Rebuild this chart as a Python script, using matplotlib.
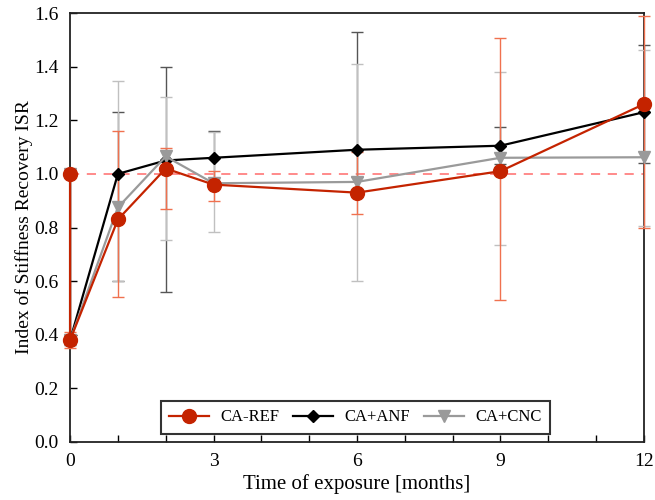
import matplotlib.pyplot as plt
from matplotlib.ticker import MultipleLocator, FixedLocator, FuncFormatter

# months of exposure; the first two points are the virgin (1.0) and the damaged state
months = [0, 0, 1, 2, 3, 6, 9, 12]

ref = [1.00, 0.38, 0.83, 1.02, 0.96, 0.93, 1.01, 1.26]
ref_lo = [0, 0.03, 0.29, 0.15, 0.06, 0.08, 0.48, 0.46]
ref_hi = [0, 0.03, 0.33, 0.075, 0.05, 0.15, 0.495, 0.33]

anf = [1.00, 0.38, 1.00, 1.05, 1.06, 1.09, 1.105, 1.23]
anf_lo = [0, 0.02, 0.40, 0.49, 0.10, 0.10, 0.07, 0.19]
anf_hi = [0, 0.02, 0.23, 0.35, 0.10, 0.44, 0.07, 0.25]

cnc = [1.00, 0.38, 0.875, 1.065, 0.965, 0.97, 1.06, 1.062]
cnc_lo = [0, 0.02, 0.275, 0.31, 0.18, 0.37, 0.325, 0.256]
cnc_hi = [0, 0.02, 0.47, 0.22, 0.19, 0.44, 0.32, 0.40]

x_labels = [0, 3, 6, 9, 12]

plt.rcParams["font.family"] = ["Liberation Serif", "DejaVu Serif"]

fig = plt.figure(figsize=(6.55, 5.0), dpi=100)
ax = fig.add_axes([0.107, 0.116, 0.876, 0.858])

red = "#C42300"
red_err = "#F0714F"

# reference level of full stiffness recovery
ax.plot([0, 12], [1.0, 1.0], color="#FF6B6B", linestyle=(0, (6, 5)),
        linewidth=1.1, zorder=1)

series = [
    (anf, anf_lo, anf_hi, "black", "#555555", "D", 6.5, "CA+ANF"),
    (cnc, cnc_lo, cnc_hi, "#9A9A9A", "#C0C0C0", "v", 9, "CA+CNC"),
    (ref, ref_lo, ref_hi, red, red_err, "o", 10, "CA-REF"),
]

handles = {}
for k, (vals, lo, hi, col, ecol, mk, ms, name) in enumerate(series):
    eb = ax.errorbar(months[1:], vals[1:], yerr=[lo[1:], hi[1:]], fmt="none",
                     ecolor=ecol, elinewidth=1.0, capsize=4, capthick=1.0,
                     zorder=2 + k)
    for art in eb.lines[1] + eb.lines[2]:
        art.set_clip_on(False)
    (ln,) = ax.plot(months, vals, color=col, marker=mk, markersize=ms,
                    linewidth=1.6, markeredgecolor=col, zorder=6 + k,
                    label=name, clip_on=False)
    handles[name] = ln

ax.set_xlim(0, 12)
ax.set_ylim(0, 1.6)
ax.xaxis.set_major_locator(FixedLocator(range(0, 13)))
ax.xaxis.set_major_formatter(FuncFormatter(lambda v, p: f"{int(v)}" if int(v) in x_labels else ""))
ax.yaxis.set_major_locator(MultipleLocator(0.2))
ax.yaxis.set_major_formatter(FuncFormatter(lambda v, p: f"{v:.1f}"))
ax.tick_params(direction="in", length=5, width=1, labelsize=14, colors="black", pad=8)

for sp in ax.spines.values():
    sp.set_linewidth(1.3)
    sp.set_color("#222222")

ax.set_xlabel("Time of exposure [months]", fontsize=15, labelpad=3)
ax.set_ylabel("Index of Stiffness Recovery ISR", fontsize=14, labelpad=1)

leg = ax.legend([handles["CA-REF"], handles["CA+ANF"], handles["CA+CNC"]],
                ["CA-REF", "CA+ANF", "CA+CNC"], loc="lower center",
                bbox_to_anchor=(0.497, 0.0), ncol=3, fontsize=12, frameon=True,
                fancybox=False, edgecolor="black", handlelength=2.4,
                columnspacing=0.8, handletextpad=0.7, borderpad=0.5)
leg.get_frame().set_linewidth(1.5)

fig.savefig("out.png", dpi=100)
